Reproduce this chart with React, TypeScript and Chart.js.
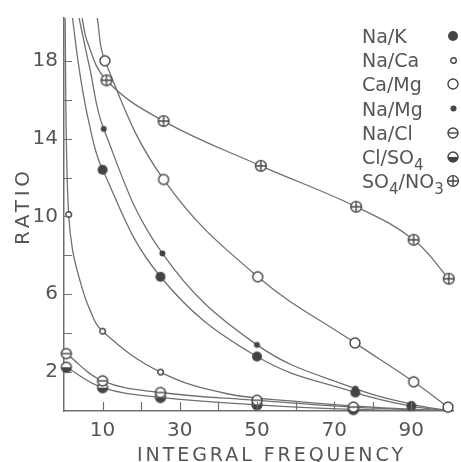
import React, { useEffect, useRef } from 'react';
import { Chart, registerables } from 'chart.js';

Chart.register(...registerables);

// ---------- data ----------
const seriesNames = ['Na/K', 'Na/Ca', 'Ca/Mg', 'Na/Mg', 'Na/Cl', 'Cl/SO4', 'SO4/NO3'];

const xTickLabels = [10, 30, 50, 70, 90];
const yTickLabels = [2, 6, 10, 14, 18];
const xTickMarks = [10, 20, 30, 40, 50, 60, 70, 80, 90];
const yTickMarks = [2, 4, 6, 8, 10, 12, 14, 16, 18];

// plotted observations
const naK_x = [10, 25, 50, 75.5, 90];
const naK_y = [12.4, 6.9, 2.8, 0.95, 0.25];
const naCa_x = [1.2, 10, 25];
const naCa_y = [10.1, 4.1, 2.0];
const caMg_x = [10.6, 25.8, 50.2, 75.4, 90.6, 99.5];
const caMg_y = [18.0, 11.9, 6.9, 3.5, 1.5, 0.2];
const naMg_x = [10.3, 25.5, 50, 75.5, 90];
const naMg_y = [14.5, 8.1, 3.4, 1.15, 0.35];
const naCl_x = [0.6, 10, 25, 50, 75];
const naCl_y = [2.95, 1.55, 0.95, 0.55, 0.2];
const clSO4_x = [0.6, 10, 25, 50, 75];
const clSO4_y = [2.25, 1.2, 0.7, 0.32, 0.08];
const so4NO3_x = [11, 25.8, 51, 75.7, 90.6, 99.7];
const so4NO3_y = [17.0, 14.9, 12.6, 10.5, 8.8, 6.8];

// extra points read on the drawn fitted curves (before / between / after the observations)
const naK_headX = [2.2, 4, 6.5];
const naK_headY = [20.2, 17.5, 14.8];
const naK_tailX = [100];
const naK_tailY = [0];
const naCa_headX = [0.3, 0.6];
const naCa_headY = [20.2, 14];
const naCa_midX = [2.2, 4, 6.5];
const naCa_midY = [8.3, 6.8, 5.3];
const naCa_tailX = [42, 60, 80, 100];
const naCa_tailY = [0.9, 0.5, 0.2, 0];
const caMg_headX = [8.6];
const caMg_headY = [20.2];
const caMg_tailX: number[] = [];
const caMg_tailY: number[] = [];
const naMg_headX = [3.9, 6.7];
const naMg_headY = [20.2, 17.6];
const naMg_tailX = [100];
const naMg_tailY = [0];
const naCl_headX: number[] = [];
const naCl_headY: number[] = [];
const naCl_tailX = [100];
const naCl_tailY = [0];
const clSO4_headX: number[] = [];
const clSO4_headY: number[] = [];
const clSO4_tailX = [100];
const clSO4_tailY = [0];
const so4NO3_headX = [4.7, 6];
const so4NO3_headY = [20.2, 19];
const so4NO3_tailX: number[] = [];
const so4NO3_tailY: number[] = [];

// ---------- styling ----------
const LINE = '#707070';
const INK = '#444444';
const TEXT = '#555555';
const FONT = '"DejaVu Sans", sans-serif';

type Kind = 'bigDot' | 'smallRing' | 'ring' | 'smallDot' | 'minusRing' | 'halfRing' | 'plusRing';

function makeMarker(kind: Kind): HTMLCanvasElement {
  const small = kind === 'smallRing' || kind === 'smallDot';
  const size = small ? 9 : 14;
  const c = document.createElement('canvas');
  c.width = size;
  c.height = size;
  const ctx = c.getContext('2d')!;
  const cx = size / 2;
  const cy = size / 2;
  ctx.lineWidth = 1.4;
  ctx.strokeStyle = INK;
  ctx.fillStyle = INK;
  const r = kind === 'smallRing' ? 2.8 : kind === 'smallDot' ? 3 : kind === 'plusRing' ? 5.4 : 5;
  ctx.beginPath();
  ctx.arc(cx, cy, r, 0, Math.PI * 2);
  if (kind === 'bigDot' || kind === 'smallDot') {
    ctx.fill();
    return c;
  }
  ctx.fillStyle = '#ffffff';
  ctx.fill();
  ctx.stroke();
  ctx.fillStyle = INK;
  if (kind === 'minusRing') {
    ctx.beginPath();
    ctx.moveTo(cx - r, cy);
    ctx.lineTo(cx + r, cy);
    ctx.stroke();
  } else if (kind === 'halfRing') {
    ctx.beginPath();
    ctx.arc(cx, cy, r, 0, Math.PI);
    ctx.closePath();
    ctx.fill();
  } else if (kind === 'plusRing') {
    ctx.beginPath();
    ctx.moveTo(cx - r, cy);
    ctx.lineTo(cx + r, cy);
    ctx.moveTo(cx, cy - r);
    ctx.lineTo(cx, cy + r);
    ctx.stroke();
  }
  return c;
}

const pts = (xs: number[], ys: number[]) => xs.map((x, i) => ({ x, y: ys[i] }));

interface Series {
  name: string;
  marker: Kind;
  mx: number[];
  my: number[];
  curveX: number[];
  curveY: number[];
}

const seriesList: Series[] = [
  { name: seriesNames[0], marker: 'bigDot', mx: naK_x, my: naK_y,
    curveX: [...naK_headX, ...naK_x, ...naK_tailX], curveY: [...naK_headY, ...naK_y, ...naK_tailY] },
  { name: seriesNames[1], marker: 'smallRing', mx: naCa_x, my: naCa_y,
    curveX: [...naCa_headX, naCa_x[0], ...naCa_midX, ...naCa_x.slice(1), ...naCa_tailX],
    curveY: [...naCa_headY, naCa_y[0], ...naCa_midY, ...naCa_y.slice(1), ...naCa_tailY] },
  { name: seriesNames[2], marker: 'ring', mx: caMg_x, my: caMg_y,
    curveX: [...caMg_headX, ...caMg_x, ...caMg_tailX], curveY: [...caMg_headY, ...caMg_y, ...caMg_tailY] },
  { name: seriesNames[3], marker: 'smallDot', mx: naMg_x, my: naMg_y,
    curveX: [...naMg_headX, ...naMg_x, ...naMg_tailX], curveY: [...naMg_headY, ...naMg_y, ...naMg_tailY] },
  { name: seriesNames[4], marker: 'minusRing', mx: naCl_x, my: naCl_y,
    curveX: [...naCl_headX, ...naCl_x, ...naCl_tailX], curveY: [...naCl_headY, ...naCl_y, ...naCl_tailY] },
  { name: seriesNames[5], marker: 'halfRing', mx: clSO4_x, my: clSO4_y,
    curveX: [...clSO4_headX, ...clSO4_x, ...clSO4_tailX], curveY: [...clSO4_headY, ...clSO4_y, ...clSO4_tailY] },
  { name: seriesNames[6], marker: 'plusRing', mx: so4NO3_x, my: so4NO3_y,
    curveX: [...so4NO3_headX, ...so4NO3_x, ...so4NO3_tailX], curveY: [...so4NO3_headY, ...so4NO3_y, ...so4NO3_tailY] },
];

function drawRich(ctx: CanvasRenderingContext2D, text: string, x: number, y: number, size: number) {
  let cx = x;
  for (const ch of text) {
    const sub = /[0-9]/.test(ch);
    const fs = sub ? Math.round(size * 0.8) : size;
    ctx.font = `${fs}px ${FONT}`;
    ctx.fillText(ch, cx, sub ? y + size * 0.32 : y);
    cx += ctx.measureText(ch).width;
  }
}

function spacedText(ctx: CanvasRenderingContext2D, text: string, x: number, y: number, size: number, targetWidth: number) {
  const anyCtx = ctx as any;
  ctx.font = `${size}px ${FONT}`;
  anyCtx.letterSpacing = '0px';
  const w = ctx.measureText(text).width;
  const sp = Math.max(0, (targetWidth - w) / (text.length - 1));
  anyCtx.letterSpacing = sp + 'px';
  ctx.textAlign = 'left';
  ctx.fillText(text, x, y);
  anyCtx.letterSpacing = '0px';
}

export default function App() {
  const ref = useRef<HTMLCanvasElement>(null);

  useEffect(() => {
    const markerImgs = seriesList.map((s) => makeMarker(s.marker));

    const curveSets = seriesList.map((s) => ({
      label: s.name + ' curve',
      data: pts(s.curveX, s.curveY),
      borderColor: LINE,
      borderWidth: 1.3,
      pointRadius: 0,
      fill: false,
      tension: 0.4,
      order: 2,
    }));
    const markerSets = seriesList.map((s, i) => ({
      label: s.name,
      data: pts(s.mx, s.my),
      showLine: false,
      pointStyle: markerImgs[i],
      pointRadius: 5,
      pointHoverRadius: 5,
      clip: false as const,
      order: 1,
    }));

    const decor = {
      id: 'decor',
      afterDraw(chart: any) {
        const ctx: CanvasRenderingContext2D = chart.ctx;
        const xs = chart.scales.x;
        const ys = chart.scales.y;
        const a = chart.chartArea;
        ctx.save();
        ctx.strokeStyle = LINE;
        ctx.lineWidth = 1.2;
        ctx.beginPath();
        for (const v of yTickMarks) {
          const py = Math.round(ys.getPixelForValue(v)) + 0.5;
          ctx.moveTo(a.left, py);
          ctx.lineTo(a.left + 8, py);
        }
        for (const v of xTickMarks) {
          const px = Math.round(xs.getPixelForValue(v)) + 0.5;
          ctx.moveTo(px, a.bottom);
          ctx.lineTo(px, a.bottom - 9);
        }
        ctx.stroke();

        ctx.fillStyle = TEXT;
        ctx.textBaseline = 'alphabetic';
        // x title
        spacedText(ctx, 'INTEGRAL FREQUENCY', 137, 461, 19, 266);
        // y title
        ctx.save();
        ctx.translate(29, 245);
        ctx.rotate(-Math.PI / 2);
        spacedText(ctx, 'RATIO', 0, 0, 20, 74);
        ctx.restore();

        // legend
        ctx.textAlign = 'left';
        seriesList.forEach((s, i) => {
          const yc = 36 + 24.2 * i;
          ctx.fillStyle = TEXT;
          drawRich(ctx, s.name, 362, yc + 7, 19);
          const img = markerImgs[i];
          ctx.drawImage(img, Math.round(453 - img.width / 2), Math.round(yc - img.height / 2));
        });
        ctx.restore();
      },
    };

    const chart = new Chart(ref.current!, {
      type: 'line',
      data: { datasets: [...markerSets, ...curveSets] as any },
      options: {
        animation: false,
        responsive: false,
        devicePixelRatio: 1,
        layout: { padding: { top: 15, right: 0, bottom: 0, left: 0 } },
        plugins: { legend: { display: false }, tooltip: { enabled: false } },
        events: [],
        scales: {
          x: {
            type: 'linear',
            min: 0,
            max: 100.8,
            afterFit: (s: any) => { s.height = 51; },
            grid: { display: false, drawTicks: false },
            border: { display: true, color: LINE, width: 1.5 },
            ticks: {
              stepSize: 10,
              autoSkip: false,
              maxRotation: 0,
              padding: 8,
              color: TEXT,
              font: { family: FONT, size: 20 },
              callback: (v: any) => (xTickLabels.includes(Number(v)) ? String(v) : ''),
            },
          },
          y: {
            type: 'linear',
            min: 0,
            max: 20.2,
            afterFit: (s: any) => { s.width = 64; },
            grid: { display: false, drawTicks: false },
            border: { display: true, color: LINE, width: 1.5 },
            ticks: {
              stepSize: 2,
              autoSkip: false,
              padding: 6,
              color: TEXT,
              font: { family: FONT, size: 20 },
              callback: (v: any) => (yTickLabels.includes(Number(v)) ? String(v) : ''),
            },
          },
        },
      },
      plugins: [decor],
    });
    return () => chart.destroy();
  }, []);

  return (
    <div style={{ position: 'absolute', left: 0, top: 0, width: 461, height: 462, background: '#ffffff' }}>
      <canvas ref={ref} width={461} height={462} style={{ display: 'block' }} />
    </div>
  );
}
